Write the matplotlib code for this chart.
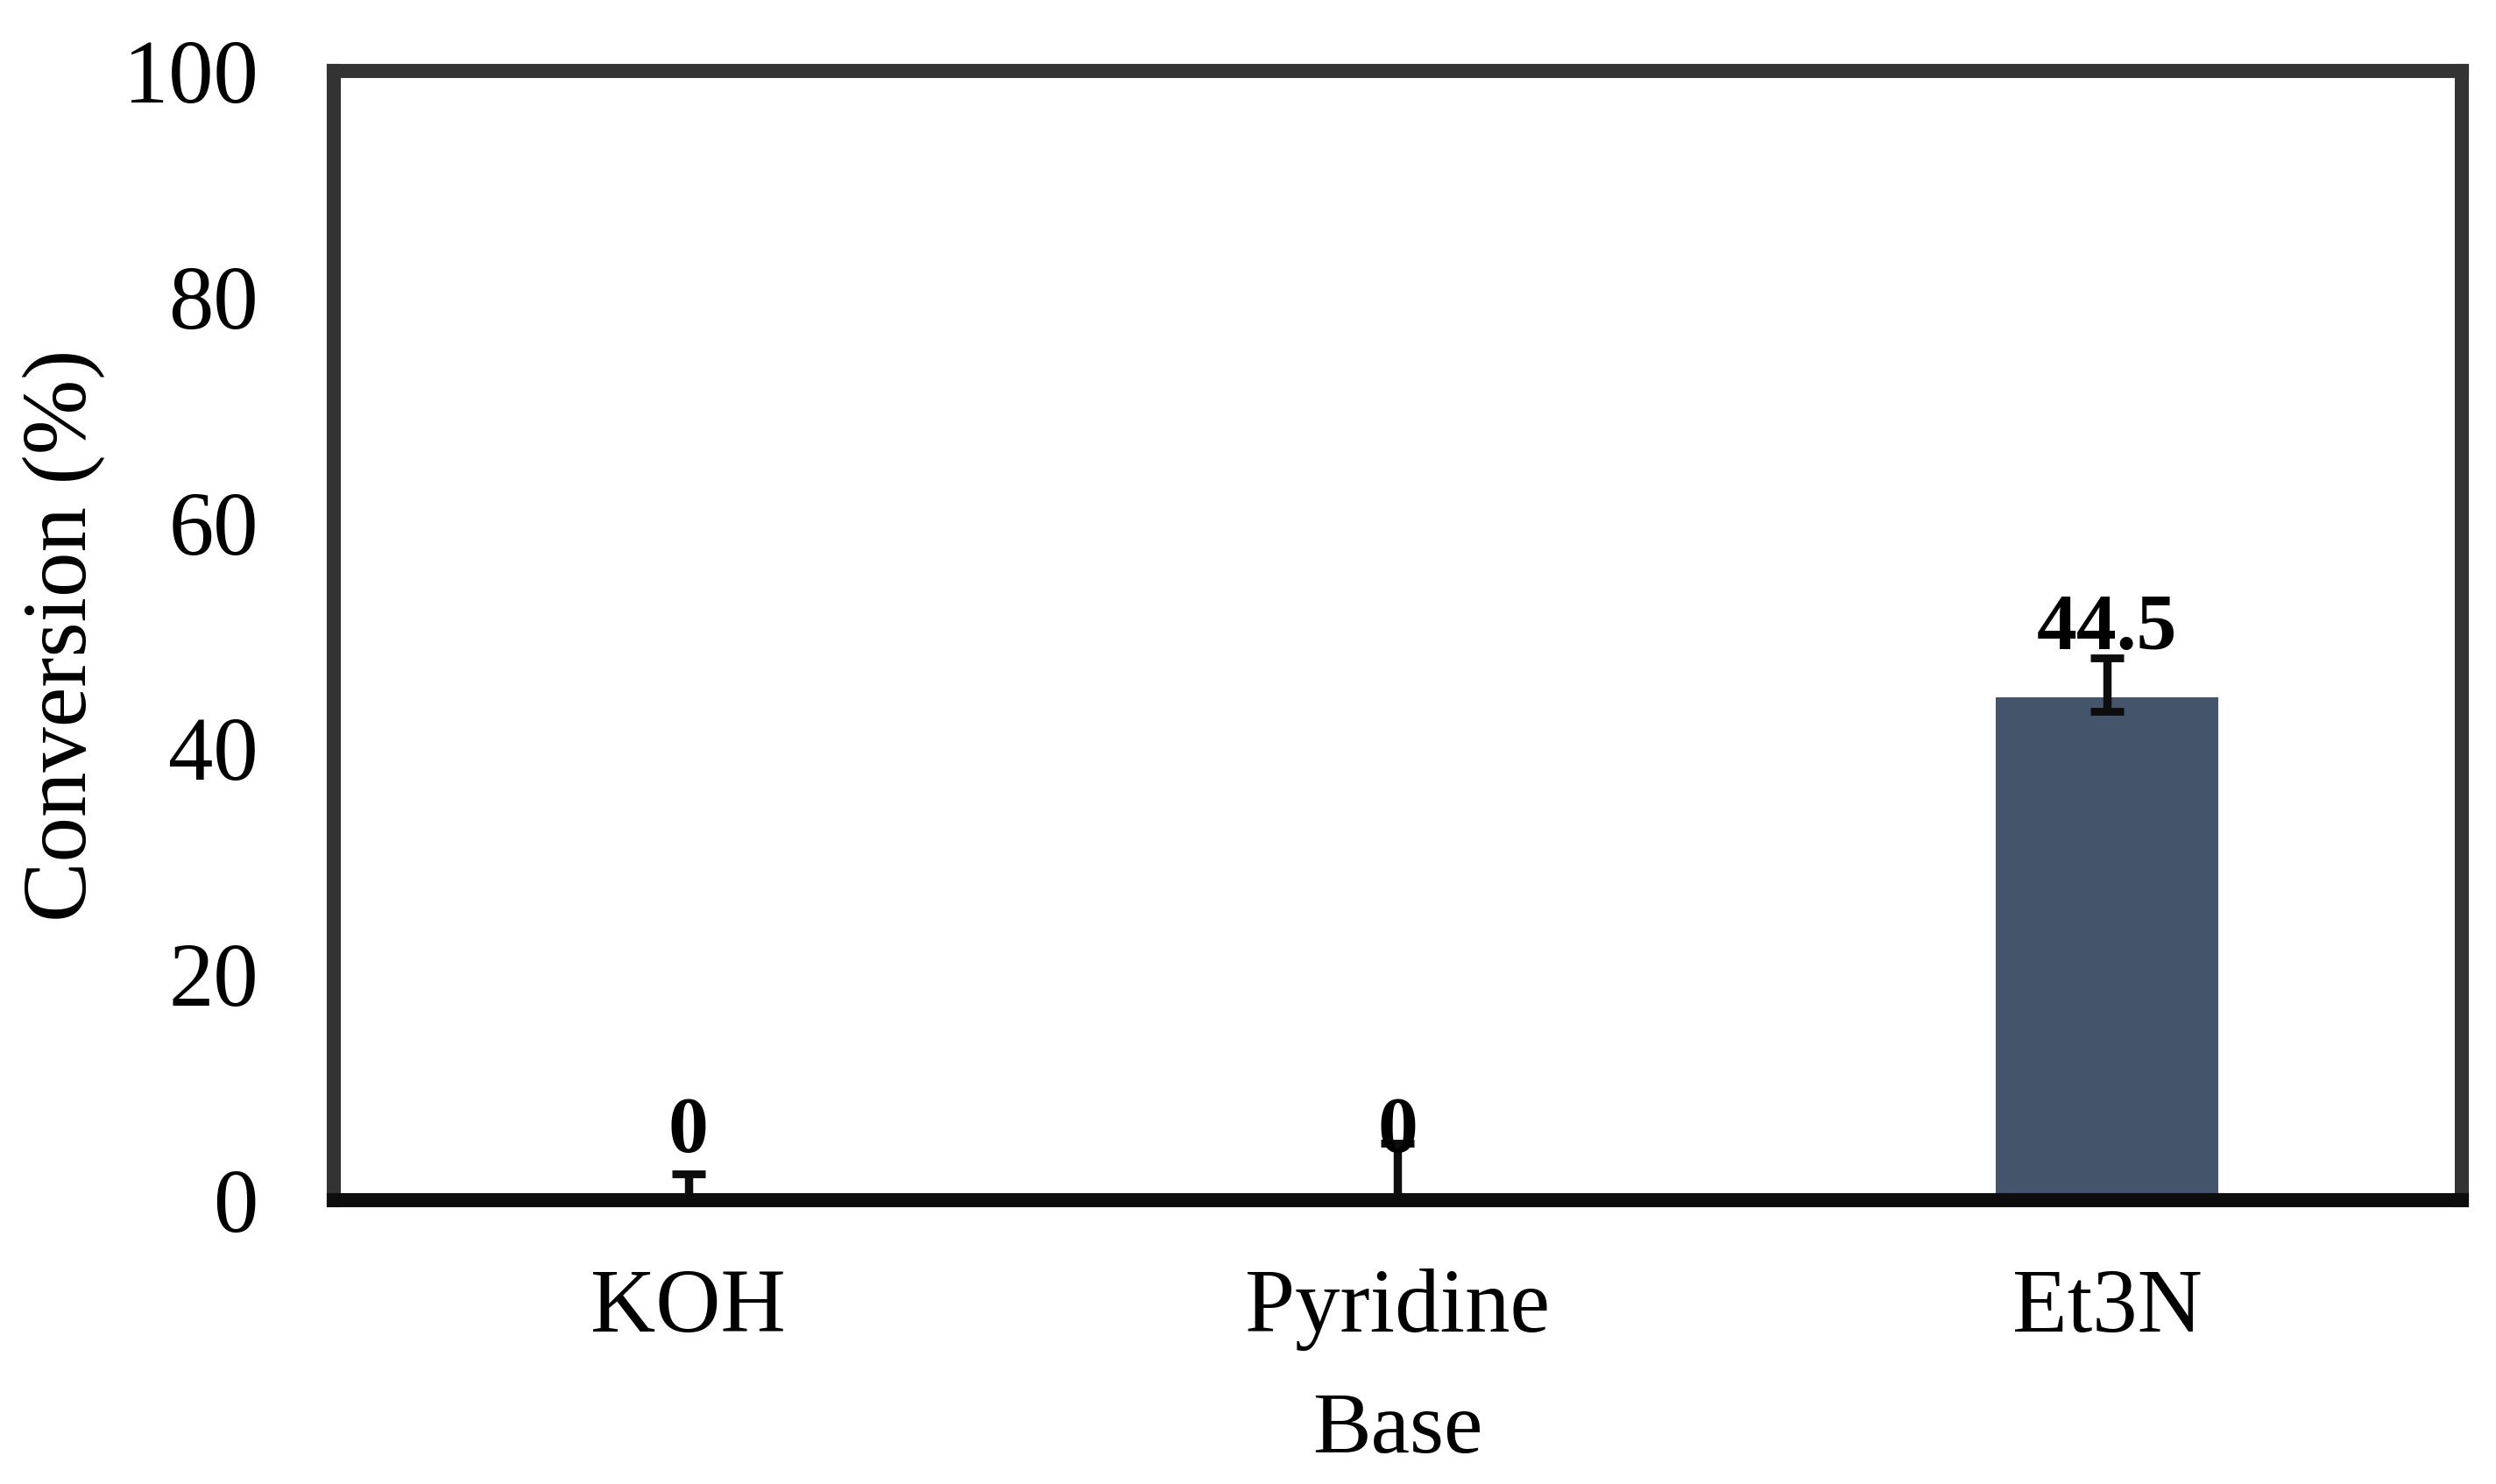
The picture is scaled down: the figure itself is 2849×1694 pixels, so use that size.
import numpy as np
import matplotlib
matplotlib.use('Agg')
import matplotlib.pyplot as plt

plt.rcParams['font.family'] = ['Liberation Serif', 'DejaVu Serif']

bases = ['KOH', 'Pyridine', 'Et3N']
conversion = [0.0, 0.0, 44.5]
err_lower = [0.0, 0.0, 1.2]
err_upper = [2.3, 5.0, 3.5]
value_labels = ['0', '0', '44.5']
y_ticks = [0, 20, 40, 60, 80, 100]

bar_color = '#44546A'
frame_color = '#333333'

fig = plt.figure(figsize=(14.245, 8.47), dpi=200)
ax = fig.add_axes([0.1337, 0.1913, 0.8526, 0.7609])

x = np.arange(len(bases))
ax.bar(x, conversion, width=0.313, color=bar_color, zorder=2)
ax.errorbar(x, conversion, yerr=[err_lower, err_upper], fmt='none',
            ecolor='#0d0d0d', elinewidth=3.4, capsize=7, capthick=3.2, zorder=3)

# value labels just above each bar
for xi, val, lab in zip(x, conversion, value_labels):
    ax.text(xi, val + 6.0, lab, ha='center', va='center',
            fontsize=33, fontweight='bold', color='black', zorder=4)

ax.set_xlim(-0.5, len(bases) - 0.5)
ax.set_ylim(0, 100)
ax.set_yticks(y_ticks)
ax.set_xticks(x)
ax.set_xticklabels(bases)
ax.tick_params(axis='both', length=0, labelsize=37, colors='black')
ax.tick_params(axis='y', pad=31)
ax.tick_params(axis='x', pad=28)

ax.set_xlabel('Base', fontsize=36, labelpad=17)
ax.set_ylabel('Conversion (%)', fontsize=37, va='center')
ax.yaxis.set_label_coords(-0.127, 0.5)

for side in ['left', 'top', 'right']:
    ax.spines[side].set_color(frame_color)
    ax.spines[side].set_linewidth(5.8)
ax.spines['bottom'].set_color('#0d0d0d')
ax.spines['bottom'].set_linewidth(5.8)
ax.spines['bottom'].set_zorder(5)

fig.savefig('out.png', dpi=200)
